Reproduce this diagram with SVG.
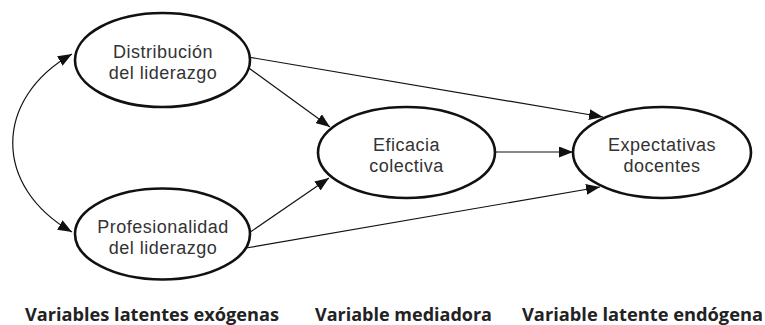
<svg xmlns="http://www.w3.org/2000/svg" width="765" height="325" viewBox="0 0 765 325">
<style>
.node ellipse{fill:#fff;stroke:#111;stroke-width:2.6}
.node text{font-family:"Liberation Sans",Arial,sans-serif;font-size:18px;letter-spacing:0.5px;fill:#333;text-anchor:middle}
.edge{fill:none;stroke:#111;stroke-width:1.2}
.lbl{font-family:"Open Sans","Noto Sans",sans-serif;font-size:18px;font-weight:bold;fill:#222}
</style>
<defs>
<marker id="ah" markerUnits="userSpaceOnUse" markerWidth="15" markerHeight="11" refX="14" refY="5.5" orient="auto-start-reverse">
<path d="M0,0 L14,5.5 L0,11 z" fill="#111"/>
</marker>
</defs>
<rect width="765" height="325" fill="#fff"/>
<g id="connectors">
<path class="edge" d="M72,54 C-7,99 -7,187 72,232" marker-start="url(#ah)" marker-end="url(#ah)"/>
<line class="edge" x1="246" y1="66" x2="330" y2="127" marker-end="url(#ah)"/>
<line class="edge" x1="246" y1="235" x2="329" y2="178" marker-end="url(#ah)"/>
<line class="edge" x1="248" y1="57" x2="603" y2="117" marker-end="url(#ah)"/>
<line class="edge" x1="246" y1="248" x2="600" y2="187" marker-end="url(#ah)"/>
<line class="edge" x1="494" y1="152" x2="573" y2="152" marker-end="url(#ah)"/>
</g>
<g id="n-distribucion" class="node">
<ellipse cx="162.5" cy="60" rx="87.5" ry="47"/>
<text x="163" y="58">Distribución</text>
<text x="163" y="79">del liderazgo</text>
</g>
<g id="n-profesionalidad" class="node">
<ellipse cx="162.5" cy="234" rx="87.5" ry="45.5"/>
<text x="163" y="233">Profesionalidad</text>
<text x="163" y="254">del liderazgo</text>
</g>
<g id="n-eficacia" class="node">
<ellipse cx="406.5" cy="152.5" rx="88.5" ry="45.5"/>
<text x="406.5" y="151">Eficacia</text>
<text x="406.5" y="172">colectiva</text>
</g>
<g id="n-expectativas" class="node">
<ellipse cx="662" cy="152.5" rx="89" ry="45.5"/>
<text x="662" y="151">Expectativas</text>
<text x="662" y="172">docentes</text>
</g>
<g id="labels">
<text class="lbl" x="25" y="321" textLength="254" lengthAdjust="spacingAndGlyphs">Variables latentes exógenas</text>
<text class="lbl" x="315" y="321" textLength="177" lengthAdjust="spacingAndGlyphs">Variable mediadora</text>
<text class="lbl" x="522" y="321" textLength="241" lengthAdjust="spacingAndGlyphs">Variable latente endógena</text>
</g>
</svg>
